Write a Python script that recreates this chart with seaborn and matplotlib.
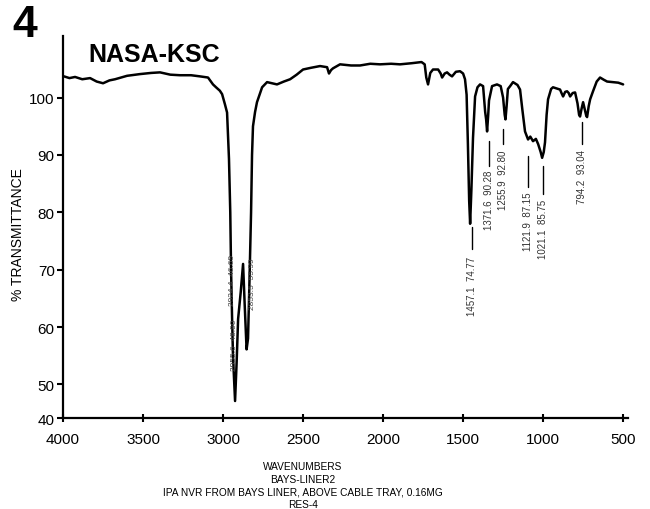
import numpy as np
import pandas as pd
import seaborn as sns
import matplotlib
matplotlib.use("Agg")
import matplotlib.pyplot as plt

# ====
# data

wavenumber = [3994, 3960, 3925, 3880, 3831, 3790, 3750, 3710, 3675, 3600, 3519, 3450,
              3394, 3330, 3269, 3200, 3144, 3094, 3063, 3044, 3020, 3006, 2988, 2975,
              2963, 2955, 2950, 2944, 2938, 2930, 2925, 2915, 2906, 2890, 2875, 2865,
              2853, 2844, 2835, 2825, 2819, 2813, 2800, 2788, 2756, 2725, 2663, 2620,
              2581, 2540, 2500, 2450, 2394, 2350, 2338, 2325, 2313, 2269, 2200, 2144,
              2080, 2019, 1950, 1894, 1820, 1760, 1740, 1730, 1719, 1705, 1688, 1656,
              1640, 1631, 1615, 1600, 1585, 1569, 1545, 1519, 1500, 1488, 1478, 1470,
              1462, 1456, 1448, 1438, 1425, 1410, 1394, 1375, 1362, 1356, 1350, 1343,
              1338, 1319, 1288, 1265, 1250, 1240, 1235, 1228, 1220, 1206, 1188, 1160,
              1144, 1130, 1113, 1094, 1080, 1063, 1045, 1031, 1015, 1006, 996, 988,
              978, 969, 950, 938, 915, 894, 885, 875, 862, 850, 840, 831,
              815, 800, 785, 775, 769, 760, 750, 740, 730, 725, 715, 706,
              688, 665, 644, 620, 600, 563, 530, 500]
transmittance = [103.7, 103.4, 103.6, 103.2, 103.4, 102.8, 102.5, 103.0, 103.2, 103.8, 104.1, 104.3,
                 104.4, 104.0, 103.9, 103.9, 103.7, 103.5, 102.3, 101.8, 101.2, 100.6, 98.8, 97.4,
                 89.3, 80.0, 70.0, 62.0, 55.0, 50.0, 47.1, 54.0, 61.4, 66.0, 71.0, 64.0,
                 56.1, 58.0, 68.0, 80.0, 90.0, 95.0, 97.5, 99.2, 101.8, 102.7, 102.3, 102.8,
                 103.2, 104.0, 104.9, 105.2, 105.5, 105.3, 104.2, 104.8, 105.1, 105.8, 105.6, 105.6,
                 105.9, 105.8, 105.9, 105.8, 106.0, 106.2, 105.8, 103.5, 102.3, 104.3, 104.9, 104.9,
                 104.2, 103.5, 104.2, 104.4, 104.0, 103.7, 104.5, 104.6, 104.2, 103.2, 100.5, 92.0,
                 82.0, 78.0, 84.0, 93.0, 100.2, 101.8, 102.3, 102.0, 97.5, 96.2, 94.1, 97.0,
                 99.5, 102.0, 102.3, 102.0, 100.0, 97.0, 96.2, 98.5, 101.5, 102.0, 102.7, 102.2,
                 101.4, 98.0, 94.1, 92.7, 93.2, 92.4, 92.8, 91.9, 90.5, 89.5, 90.5, 92.2,
                 97.0, 99.7, 101.5, 101.8, 101.6, 101.4, 100.8, 100.2, 101.0, 101.1, 100.8, 100.2,
                 100.8, 100.9, 99.0, 97.0, 96.7, 98.0, 99.2, 98.0, 96.8, 96.6, 98.5, 99.7,
                 101.1, 102.8, 103.5, 103.1, 102.8, 102.7, 102.6, 102.3]

# peak annotations: label text, x position, tick top / bottom, text top
peak_labels = ["1457.1  74.77", "1371.6  90.28", "1255.9  92.80",
               "1121.9  87.15", "1021.1  85.75", "794.2  93.04"]
peak_x = [1444, 1338, 1250, 1094, 1000, 756]
peak_tick_top = [77.5, 92.4, 94.5, 89.8, 88.0, 95.7]
peak_tick_bottom = [73.6, 88.0, 91.9, 84.5, 83.2, 91.9]
peak_text_top = [72.4, 87.5, 91.0, 83.7, 82.3, 91.0]

# the C-H stretch labels sit on top of the trace and are barely legible
ch_labels = ["2924.4  46.69", "2955.6  48.90", "2853.5  55.99"]
ch_x = [2944, 2930, 2813]
ch_text_top = [72.7, 61.4, 72.2]

xticks = [4000, 3500, 3000, 2500, 2000, 1500, 1000, 500]
ytick_pos = [44.1, 50, 60, 70, 80, 90, 100]
ytick_labels = ["40", "50", "60", "70", "80", "90", "100"]

spectrum = pd.DataFrame({"wavenumber": wavenumber, "transmittance": transmittance})

# ====
# plot

sns.set_style("ticks")
plt.rcParams['font.family'] = ['Liberation Sans', 'DejaVu Sans']
plt.rcParams['text.color'] = "black"
plt.rcParams['xtick.color'] = "black"
plt.rcParams['ytick.color'] = "black"
plt.rcParams['axes.edgecolor'] = "black"

fig = plt.figure(figsize=(6.5, 5.1), dpi=100)
ax = fig.add_axes([0.097, 0.178, 0.869, 0.749])

sns.lineplot(data=spectrum, x="wavenumber", y="transmittance", sort=False,
             estimator=None, color="black", lw=1.8, ax=ax)

ax.set_xlim(4000, 470)
ax.set_ylim(44.1, 110.7)
ax.set_xticks(xticks)
ax.set_xticklabels([str(t) for t in xticks], fontsize=11)
ax.set_yticks(ytick_pos)
ax.set_yticklabels(ytick_labels, fontsize=11)
ax.tick_params(axis="x", direction="inout", length=6, width=1.5, pad=7)
ax.tick_params(axis="y", direction="out", length=4, width=1.5, pad=2)
ax.set_xlabel("")
ax.set_ylabel("")
fig.text(18 / 650, 1 - 235 / 510, "% TRANSMITTANCE", fontsize=10, rotation=90,
         ha="center", va="center")

for side in ["top", "right"]:
    ax.spines[side].set_visible(False)
for side in ["left", "bottom"]:
    ax.spines[side].set_linewidth(1.6)

for lab, x, t0, t1, tt in zip(peak_labels, peak_x, peak_tick_top, peak_tick_bottom, peak_text_top):
    ax.plot([x, x], [t0, t1], color="black", lw=1.0)
    ax.text(x, tt, lab, rotation=90, ha="center", va="top", fontsize=7, color="#333333")

for lab, x, tt in zip(ch_labels, ch_x, ch_text_top):
    ax.text(x, tt, lab, rotation=90, ha="center", va="top", fontsize=6, color="#444444")

fig.text(12 / 650, 1 - 5 / 510, "4", fontsize=32, fontweight="bold", ha="left", va="top")
fig.text(88 / 650, 1 - 62 / 510, "NASA-KSC", fontsize=18, fontweight="bold",
         ha="left", va="baseline")

caption = ["WAVENUMBERS", "BAYS-LINER2",
           "IPA NVR FROM BAYS LINER, ABOVE CABLE TRAY, 0.16MG", "RES-4"]
caption_y = [467, 480, 493, 505]
for line, y in zip(caption, caption_y):
    fig.text(303 / 650, 1 - y / 510, line, fontsize=7.3, ha="center", va="center")

plt.savefig("out.png", dpi=100)
